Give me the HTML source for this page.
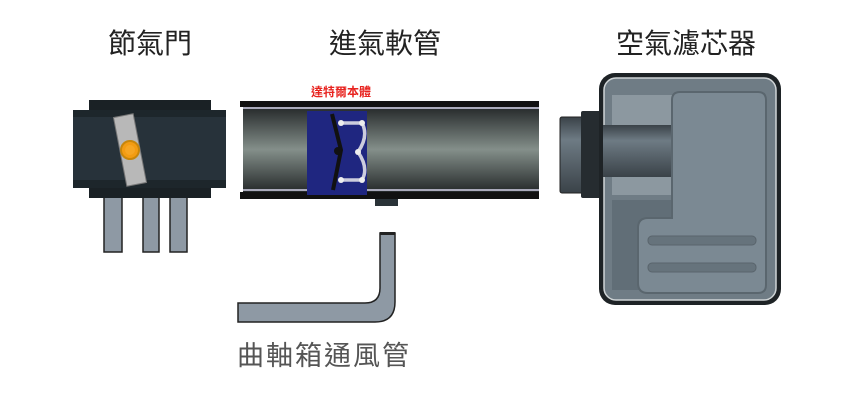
<!DOCTYPE html>
<html><head><meta charset="utf-8"><style>
html,body{margin:0;padding:0;background:#fff;}
svg{display:block;}
text{font-family:"Liberation Sans","Noto Sans CJK TC",sans-serif;}
</style></head><body>
<svg width="862" height="401" viewBox="0 0 862 401" xmlns="http://www.w3.org/2000/svg">
<defs>
<linearGradient id="pipe" x1="0" y1="0" x2="0" y2="1">
<stop offset="0" stop-color="#25292a"/><stop offset="0.5" stop-color="#848f8a"/><stop offset="1" stop-color="#25292a"/>
</linearGradient>
<linearGradient id="conn" x1="0" y1="0" x2="0" y2="1">
<stop offset="0" stop-color="#3a4248"/><stop offset="0.3" stop-color="#6e7b84"/><stop offset="1" stop-color="#3a4248"/>
</linearGradient>
</defs>
<g font-size="28" fill="#222" text-anchor="middle">
<text x="150" y="53">節氣門</text>
<text x="385" y="53">進氣軟管</text>
<text x="686" y="53">空氣濾芯器</text>
</g>
<!-- throttle -->
<rect x="104" y="188" width="18" height="64" fill="#8e99a4" stroke="#222" stroke-width="1.5"/>
<rect x="143" y="188" width="16" height="64" fill="#8e99a4" stroke="#222" stroke-width="1.5"/>
<rect x="170" y="188" width="17" height="64" fill="#8e99a4" stroke="#222" stroke-width="1.5"/>
<rect x="89" y="100" width="122" height="98" fill="#1a2125"/>
<rect x="73" y="110" width="153" height="78" fill="#27323a"/>
<rect x="73" y="110" width="153" height="7" fill="#1d262b"/>
<rect x="73" y="180" width="153" height="8" fill="#1d262b"/>
<rect x="120" y="115" width="20" height="70" fill="#b8b8b8" stroke="#777" transform="rotate(-11 130 150)"/>
<circle cx="130" cy="150" r="9" fill="#f39c12" stroke="#c8860a" stroke-width="2"/>
<circle cx="130" cy="150" r="5" fill="#f6a623"/>
<!-- intake pipe -->
<rect x="243" y="107" width="296" height="85" fill="url(#pipe)"/>
<rect x="240" y="101" width="299" height="6" fill="#111"/>
<rect x="243" y="107" width="296" height="2" fill="#aab"/>
<rect x="243" y="189" width="296" height="2" fill="#aab"/>
<rect x="240" y="192" width="299" height="7" fill="#111"/>
<rect x="375" y="199" width="23" height="7" fill="#2a3338"/>
<rect x="307" y="111" width="60" height="84" fill="#1f2680"/>
<path d="M332 114 L341 150 L333 190" stroke="#111" stroke-width="4" fill="none"/>
<circle cx="338" cy="151" r="4" fill="#111"/>
<path d="M341 123 H362 Q369 136 358 152 Q369 168 362 180 H341" stroke="#ccd" stroke-width="3.5" fill="none"/>
<circle cx="341" cy="123" r="3" fill="#eee"/><circle cx="362" cy="123" r="3" fill="#eee"/>
<circle cx="358" cy="152" r="3" fill="#eee"/><circle cx="341" cy="180" r="3" fill="#eee"/><circle cx="362" cy="180" r="3" fill="#eee"/>
<text x="341" y="96" font-size="12" font-weight="bold" fill="#e8231f" text-anchor="middle">達特爾本體</text>
<!-- vent pipe -->
<path d="M238 303 H365 Q380 303 380 288 V233 H395 V302 Q395 322 375 322 H238 Z" fill="#8e99a4" stroke="#222" stroke-width="1.5"/>
<rect x="380" y="232" width="15" height="3" fill="#222"/>
<text x="324" y="365" font-size="27" fill="#555" text-anchor="middle" letter-spacing="2">曲軸箱通風管</text>
<!-- filter -->
<rect x="560" y="117" width="24" height="76" rx="2" fill="url(#conn)" stroke="#222"/>
<rect x="581" y="111" width="22" height="87" rx="2" fill="#262c30"/>
<rect x="599" y="73" width="182" height="232" rx="16" fill="#1e2326"/>
<rect x="604" y="78" width="172" height="222" rx="12" fill="#6f7c85" stroke="#cfd4d6" stroke-width="1.5"/>
<rect x="612" y="95" width="62" height="100" fill="#8c98a0"/>
<rect x="603" y="125" width="70" height="52" fill="url(#conn)"/>
<rect x="612" y="200" width="100" height="90" fill="#616e77"/>
<path d="M680 92 H758 Q766 92 766 100 V285 Q766 293 758 293 H648 Q638 293 638 283 V228 Q638 218 648 218 H672 V100 Q672 92 680 92 Z" fill="#7b8993" stroke="#5a666e" stroke-width="2"/>
<rect x="648" y="236" width="108" height="9" rx="4" fill="#66737c" stroke="#59646c"/>
<rect x="648" y="263" width="108" height="9" rx="4" fill="#66737c" stroke="#59646c"/>
</svg>
</body></html>
